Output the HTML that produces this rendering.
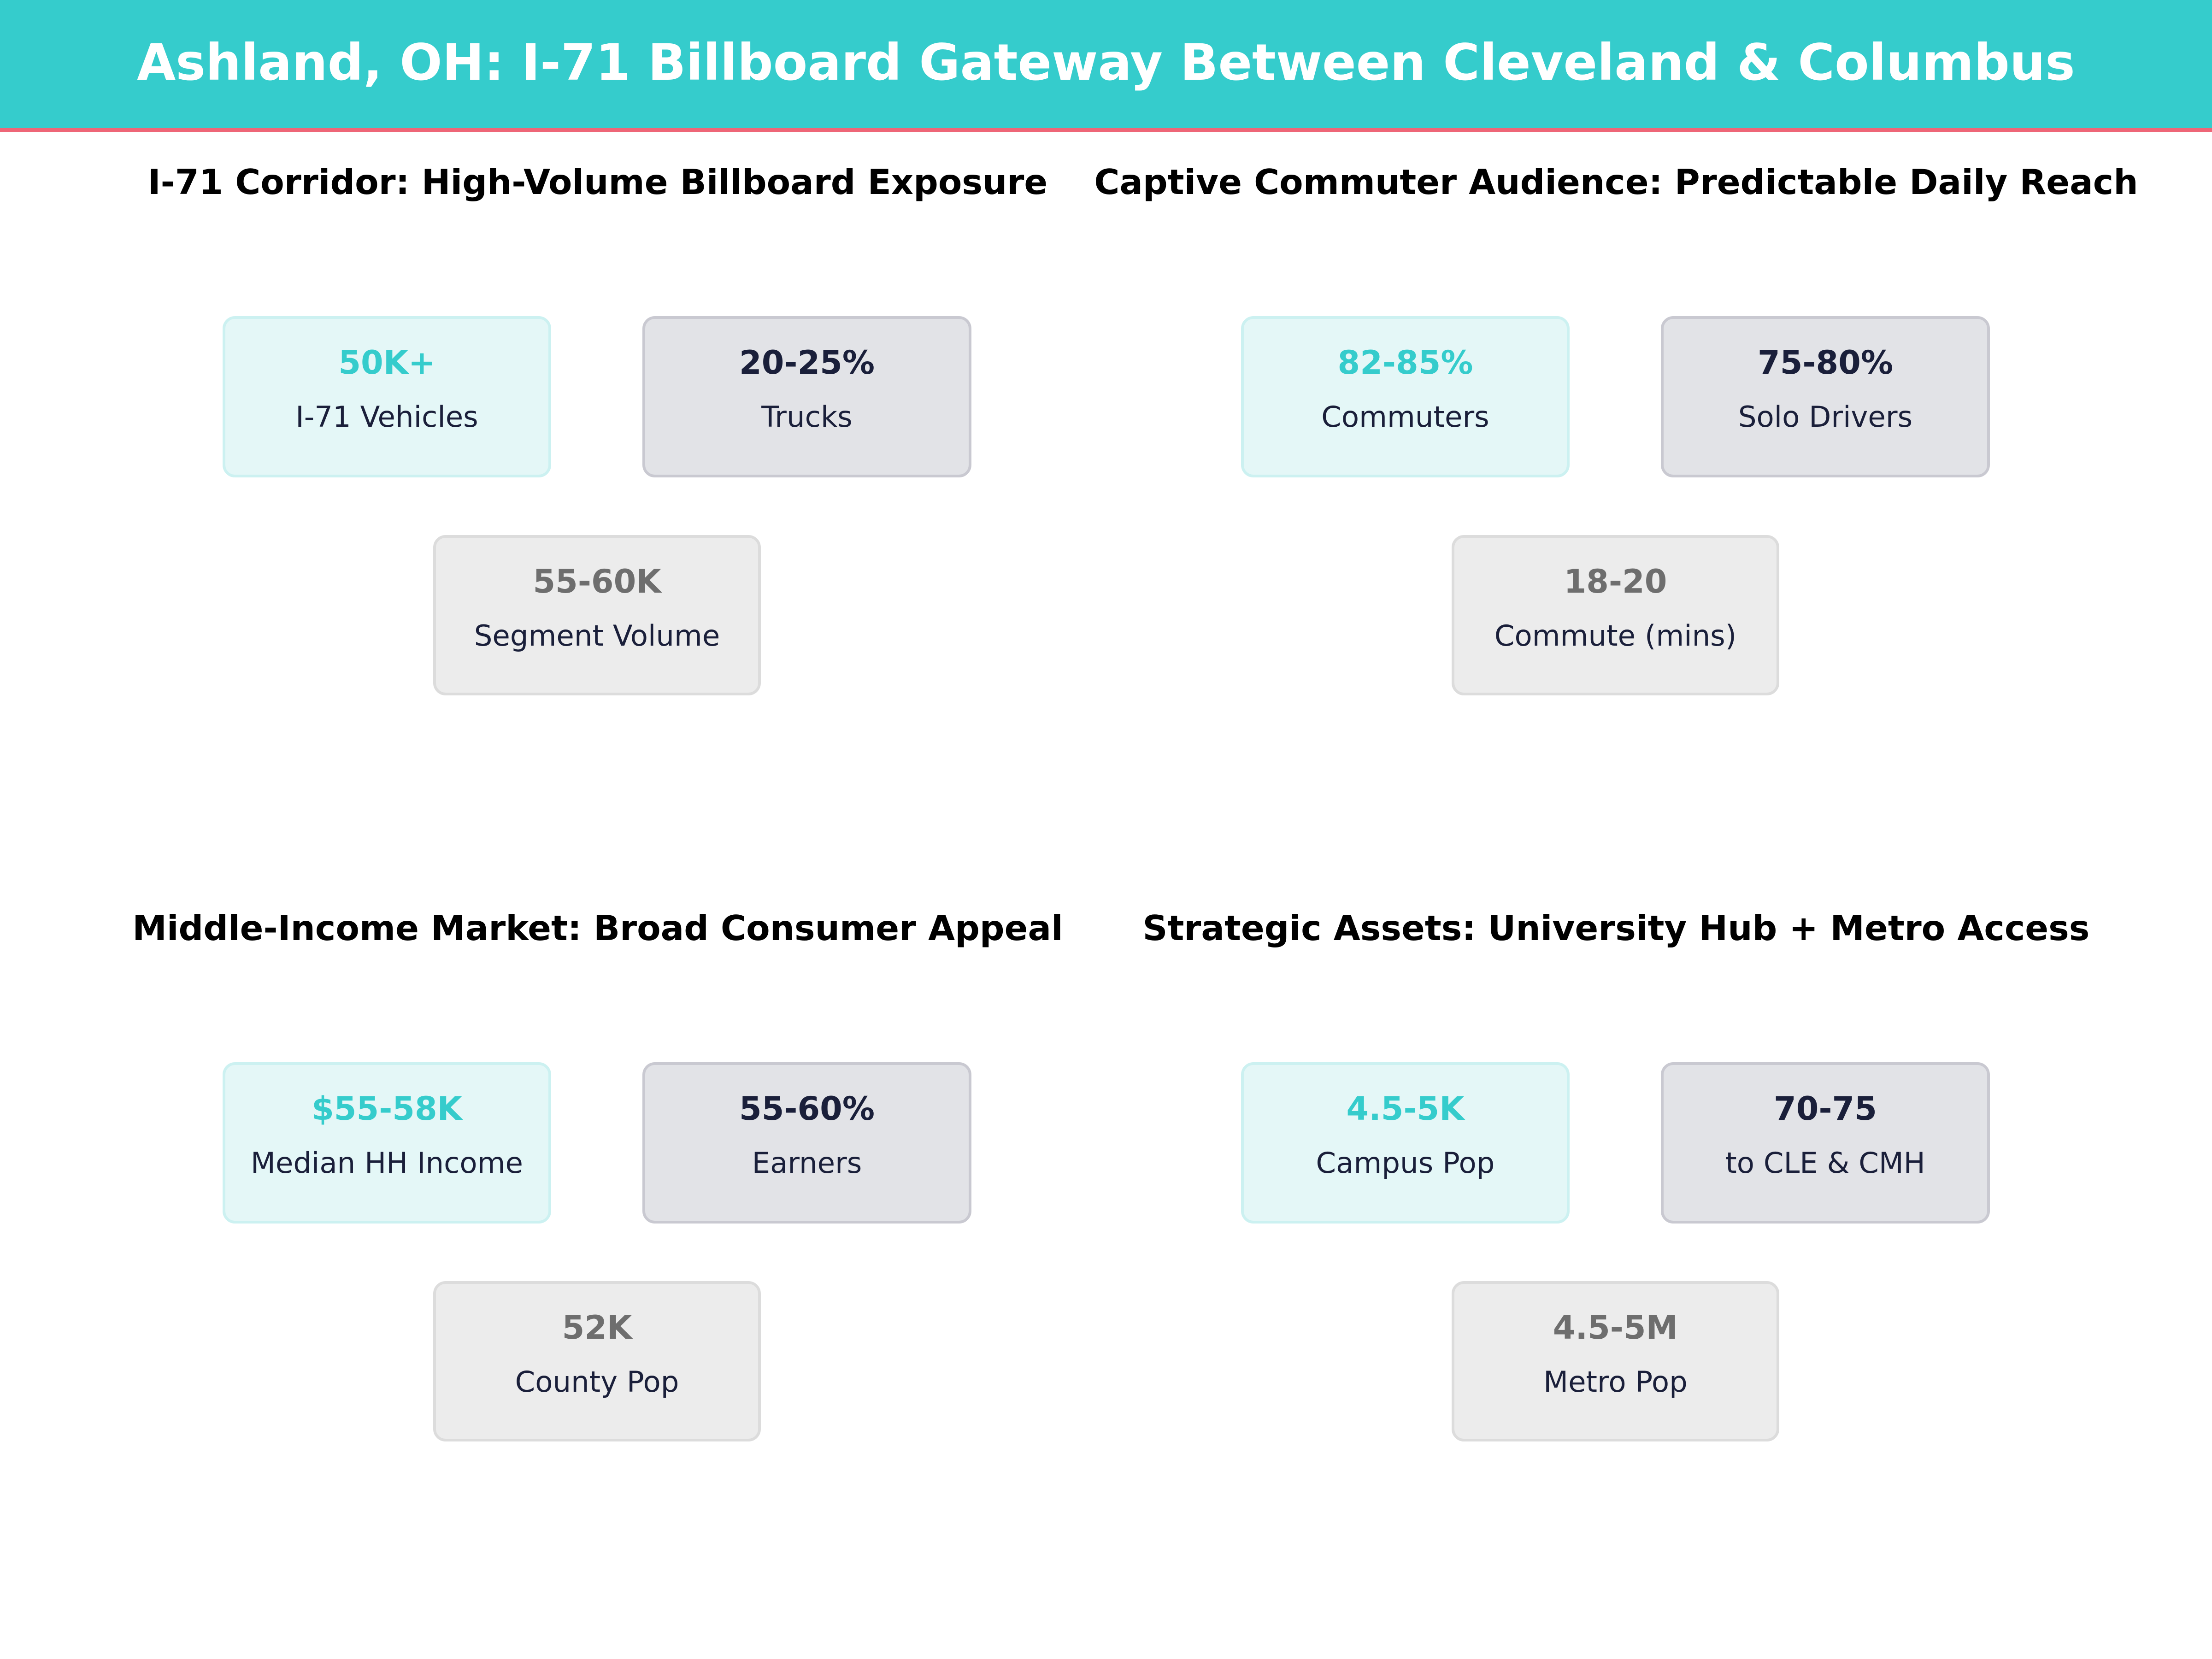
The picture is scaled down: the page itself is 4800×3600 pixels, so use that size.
<!DOCTYPE html>
<html><head><meta charset="utf-8"><style>
html,body{margin:0;padding:0;background:#fff;}
svg{display:block;font-family:"DejaVu Sans","Liberation Sans",sans-serif;}
</style></head><body>
<svg width="4800" height="3600" viewBox="0 0 4800 3600" xmlns="http://www.w3.org/2000/svg">
<rect x="0" y="0" width="4800" height="280" fill="#35cccc"/>
<rect x="0" y="278" width="4800" height="9" fill="#ee6677"/>
<text x="2400" y="173" text-anchor="middle" font-size="108.5" font-weight="bold" fill="#fff">Ashland, OH: I-71 Billboard Gateway Between Cleveland &amp; Columbus</text>

<g id="p1">
<text x="1297" y="421" text-anchor="middle" font-size="75" font-weight="bold" fill="#000">I-71 Corridor: High-Volume Billboard Exposure</text>
<rect x="486" y="689" width="707" height="344" rx="24" fill="#e4f7f7" stroke="#ccf1f1" stroke-width="6"/>
<text x="839.5" y="811" text-anchor="middle" font-size="70" font-weight="bold" fill="#35cccc">50K+</text>
<text x="839.5" y="926" text-anchor="middle" font-size="62.5" fill="#1a1f3a">I-71 Vehicles</text>
<rect x="1397" y="689" width="708" height="344" rx="24" fill="#e2e3e7" stroke="#c9c9d1" stroke-width="6"/>
<text x="1751" y="811" text-anchor="middle" font-size="70" font-weight="bold" fill="#1a1f3a">20-25%</text>
<text x="1751" y="926" text-anchor="middle" font-size="62.5" fill="#1a1f3a">Trucks</text>
<rect x="943" y="1164" width="705" height="342" rx="24" fill="#ececec" stroke="#dcdcdc" stroke-width="6"/>
<text x="1295.5" y="1286" text-anchor="middle" font-size="70" font-weight="bold" fill="#6e6e6e">55-60K</text>
<text x="1295.5" y="1401" text-anchor="middle" font-size="62.5" fill="#1a1f3a">Segment Volume</text>
</g>

<g transform="translate(2210,0)">
<text x="1297" y="421" text-anchor="middle" font-size="75" font-weight="bold" fill="#000">Captive Commuter Audience: Predictable Daily Reach</text>
<rect x="486" y="689" width="707" height="344" rx="24" fill="#e4f7f7" stroke="#ccf1f1" stroke-width="6"/>
<text x="839.5" y="811" text-anchor="middle" font-size="70" font-weight="bold" fill="#35cccc">82-85%</text>
<text x="839.5" y="926" text-anchor="middle" font-size="62.5" fill="#1a1f3a">Commuters</text>
<rect x="1397" y="689" width="708" height="344" rx="24" fill="#e2e3e7" stroke="#c9c9d1" stroke-width="6"/>
<text x="1751" y="811" text-anchor="middle" font-size="70" font-weight="bold" fill="#1a1f3a">75-80%</text>
<text x="1751" y="926" text-anchor="middle" font-size="62.5" fill="#1a1f3a">Solo Drivers</text>
<rect x="943" y="1164" width="705" height="342" rx="24" fill="#ececec" stroke="#dcdcdc" stroke-width="6"/>
<text x="1295.5" y="1286" text-anchor="middle" font-size="70" font-weight="bold" fill="#6e6e6e">18-20</text>
<text x="1295.5" y="1401" text-anchor="middle" font-size="62.5" fill="#1a1f3a">Commute (mins)</text>
</g>

<g transform="translate(0,1619)">
<text x="1297" y="421" text-anchor="middle" font-size="75" font-weight="bold" fill="#000">Middle-Income Market: Broad Consumer Appeal</text>
<rect x="486" y="689" width="707" height="344" rx="24" fill="#e4f7f7" stroke="#ccf1f1" stroke-width="6"/>
<text x="839.5" y="811" text-anchor="middle" font-size="70" font-weight="bold" fill="#35cccc">$55-58K</text>
<text x="839.5" y="926" text-anchor="middle" font-size="62.5" fill="#1a1f3a">Median HH Income</text>
<rect x="1397" y="689" width="708" height="344" rx="24" fill="#e2e3e7" stroke="#c9c9d1" stroke-width="6"/>
<text x="1751" y="811" text-anchor="middle" font-size="70" font-weight="bold" fill="#1a1f3a">55-60%</text>
<text x="1751" y="926" text-anchor="middle" font-size="62.5" fill="#1a1f3a">Earners</text>
<rect x="943" y="1164" width="705" height="342" rx="24" fill="#ececec" stroke="#dcdcdc" stroke-width="6"/>
<text x="1295.5" y="1286" text-anchor="middle" font-size="70" font-weight="bold" fill="#6e6e6e">52K</text>
<text x="1295.5" y="1401" text-anchor="middle" font-size="62.5" fill="#1a1f3a">County Pop</text>
</g>

<g transform="translate(2210,1619)">
<text x="1297" y="421" text-anchor="middle" font-size="75" font-weight="bold" fill="#000">Strategic Assets: University Hub + Metro Access</text>
<rect x="486" y="689" width="707" height="344" rx="24" fill="#e4f7f7" stroke="#ccf1f1" stroke-width="6"/>
<text x="839.5" y="811" text-anchor="middle" font-size="70" font-weight="bold" fill="#35cccc">4.5-5K</text>
<text x="839.5" y="926" text-anchor="middle" font-size="62.5" fill="#1a1f3a">Campus Pop</text>
<rect x="1397" y="689" width="708" height="344" rx="24" fill="#e2e3e7" stroke="#c9c9d1" stroke-width="6"/>
<text x="1751" y="811" text-anchor="middle" font-size="70" font-weight="bold" fill="#1a1f3a">70-75</text>
<text x="1751" y="926" text-anchor="middle" font-size="62.5" fill="#1a1f3a">to CLE &amp; CMH</text>
<rect x="943" y="1164" width="705" height="342" rx="24" fill="#ececec" stroke="#dcdcdc" stroke-width="6"/>
<text x="1295.5" y="1286" text-anchor="middle" font-size="70" font-weight="bold" fill="#6e6e6e">4.5-5M</text>
<text x="1295.5" y="1401" text-anchor="middle" font-size="62.5" fill="#1a1f3a">Metro Pop</text>
</g>
</svg>
</body></html>
